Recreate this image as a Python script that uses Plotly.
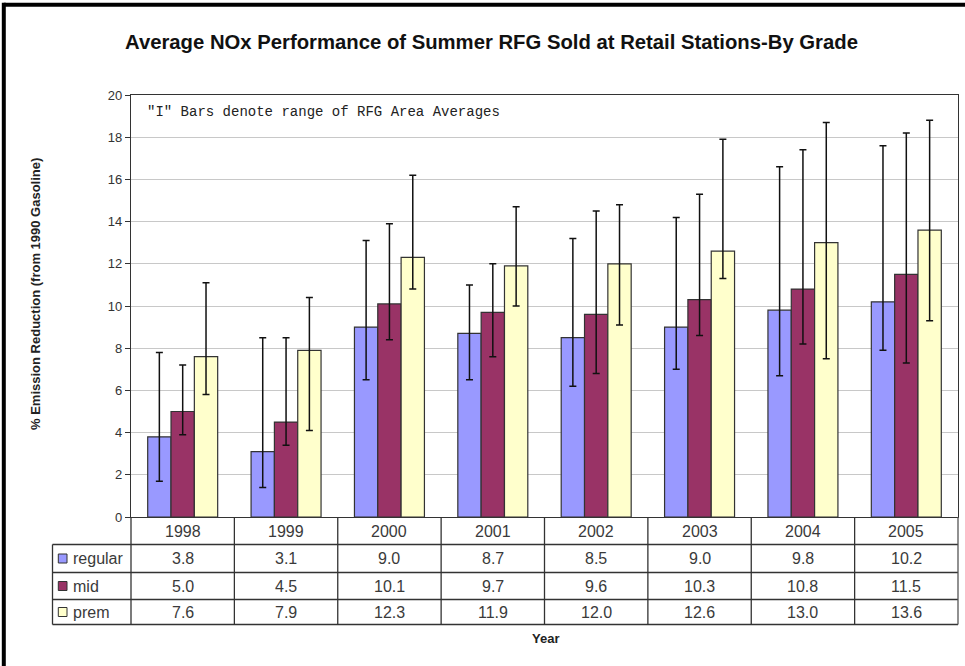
import plotly.graph_objects as go

# ---- data -------------------------------------------------------------
years = ["1998", "1999", "2000", "2001", "2002", "2003", "2004", "2005"]
grades = ["regular", "mid", "prem"]

regular = [3.8, 3.1, 9.0, 8.7, 8.5, 9.0, 9.8, 10.2]
mid = [5.0, 4.5, 10.1, 9.7, 9.6, 10.3, 10.8, 11.5]
prem = [7.6, 7.9, 12.3, 11.9, 12.0, 12.6, 13.0, 13.6]

# range of RFG area averages (high / low) for each grade
regular_hi = [7.8, 8.5, 13.1, 11.0, 13.2, 14.2, 16.6, 17.6]
regular_lo = [1.7, 1.4, 6.5, 6.5, 6.2, 7.0, 6.7, 7.9]
mid_hi = [7.2, 8.5, 13.9, 12.0, 14.5, 15.3, 17.4, 18.2]
mid_lo = [3.9, 3.4, 8.4, 7.6, 6.8, 8.6, 8.2, 7.3]
prem_hi = [11.1, 10.4, 16.2, 14.7, 14.8, 17.9, 18.7, 18.8]
prem_lo = [5.8, 4.1, 10.8, 10.0, 9.1, 11.3, 7.5, 9.3]

y_ticks = [0, 2, 4, 6, 8, 10, 12, 14, 16, 18, 20]

# ---- styling ----------------------------------------------------------
W, H = 965, 666
ML, MR, MT, MB = 131, 7, 95, 149
PW, PH = W - ML - MR, H - MT - MB
colors = {"regular": "#9999FF", "mid": "#993366", "prem": "#FFFFCC"}
FONT = "Liberation Sans, Arial, sans-serif"
LINE = "#333333"


def px_x(px):
    return (px - ML) / PW


def px_y(py):
    return (H - MB - py) / PH


series = {
    "regular": (regular, regular_hi, regular_lo),
    "mid": (mid, mid_hi, mid_lo),
    "prem": (prem, prem_hi, prem_lo),
}

fig = go.Figure()
for name in grades:
    vals, hi, lo = series[name]
    fig.add_trace(go.Bar(
        name=name,
        x=years,
        y=vals,
        marker=dict(color=colors[name], line=dict(color="#333333", width=1.2)),
        error_y=dict(
            type="data",
            symmetric=False,
            array=[h - v for h, v in zip(hi, vals)],
            arrayminus=[v - l for v, l in zip(vals, lo)],
            color="#111111",
            thickness=1.5,
            width=3.5,
        ),
        showlegend=False,
    ))

shapes = []
annotations = []

# data table under the plot
row_lines = [544.5, 572.5, 599.5, 624.5]
row_centers = [531, 558.5, 586, 612]
table_left = 52.5
y_bottom = px_y(row_lines[-1])

for py in row_lines:
    shapes.append(dict(type="line", xref="paper", yref="paper",
                       x0=px_x(table_left), x1=1, y0=px_y(py), y1=px_y(py),
                       line=dict(color=LINE, width=1.3)))
shapes.append(dict(type="line", xref="paper", yref="paper",
                   x0=px_x(table_left), x1=px_x(table_left),
                   y0=px_y(row_lines[0]), y1=y_bottom,
                   line=dict(color=LINE, width=1.3)))
shapes.append(dict(type="line", xref="paper", yref="paper",
                   x0=0, x1=0, y0=0, y1=y_bottom,
                   line=dict(color=LINE, width=1.3)))
shapes.append(dict(type="line", xref="paper", yref="paper",
                   x0=1, x1=1, y0=0, y1=y_bottom,
                   line=dict(color="#555555", width=1.3)))
for i in range(len(years) - 1):
    shapes.append(dict(type="line", xref="x", yref="paper",
                       x0=i + 0.5, x1=i + 0.5, y0=0, y1=y_bottom,
                       line=dict(color=LINE, width=1.3)))

cell_font = dict(family=FONT, size=16, color="#3a3a3a")
for i, yr in enumerate(years):
    annotations.append(dict(x=i, xref="x", y=px_y(row_centers[0]), yref="paper",
                            text=yr, showarrow=False, font=cell_font,
                            xanchor="center", yanchor="middle"))
for r, name in enumerate(grades):
    yc = px_y(row_centers[r + 1])
    vals = series[name][0]
    for i, v in enumerate(vals):
        annotations.append(dict(x=i, xref="x", y=yc, yref="paper",
                                text=f"{v:.1f}", showarrow=False, font=cell_font,
                                xanchor="center", yanchor="middle"))
    # legend key
    cy = row_centers[r + 1]
    shapes.append(dict(type="rect", xref="paper", yref="paper",
                       x0=px_x(58.3), x1=px_x(67), y0=px_y(cy - 4.5), y1=px_y(cy + 4.5),
                       fillcolor=colors[name], line=dict(color="#333333", width=1)))
    annotations.append(dict(x=px_x(71), xref="paper", y=yc, yref="paper",
                            text=name, showarrow=False, font=cell_font,
                            xanchor="left", yanchor="middle"))

# note inside the plot
annotations.append(dict(x=px_x(145), xref="paper", y=px_y(112), yref="paper",
                        text='"I" Bars denote range of RFG Area Averages',
                        showarrow=False, xanchor="left", yanchor="middle",
                        font=dict(family="Liberation Mono, Courier New, monospace",
                                  size=14, color="#222222")))

# title and axis titles
annotations.append(dict(x=px_x(491), xref="paper", y=px_y(42), yref="paper",
                        text="<b>Average NOx Performance of Summer RFG Sold at Retail Stations-By Grade</b>",
                        showarrow=False, xanchor="center", yanchor="middle",
                        font=dict(family=FONT, size=20.3, color="#111111")))
annotations.append(dict(x=px_x(35), xref="paper", y=px_y(294), yref="paper",
                        text="<b>% Emission Reduction (from 1990 Gasoline)</b>",
                        textangle=-90, showarrow=False, xanchor="center", yanchor="middle",
                        font=dict(family=FONT, size=13, color="#222222")))
annotations.append(dict(x=px_x(545), xref="paper", y=px_y(638), yref="paper",
                        text="<b>Year</b>", showarrow=False,
                        xanchor="center", yanchor="middle",
                        font=dict(family=FONT, size=13, color="#222222")))

# dark frame on the top and left edges
shapes.append(dict(type="line", xref="paper", yref="paper",
                   x0=px_x(3.8), x1=px_x(W + 5), y0=px_y(4.7), y1=px_y(4.7),
                   line=dict(color="#000000", width=4)))
shapes.append(dict(type="line", xref="paper", yref="paper",
                   x0=px_x(3.8), x1=px_x(3.8), y0=px_y(2.7), y1=px_y(H + 5),
                   line=dict(color="#000000", width=4)))

fig.update_layout(
    width=W, height=H,
    margin=dict(l=ML, r=MR, t=MT, b=MB, pad=0),
    paper_bgcolor="white",
    plot_bgcolor="white",
    barmode="group",
    bargap=0.323,
    bargroupgap=0,
    showlegend=False,
    shapes=shapes,
    annotations=annotations,
    xaxis=dict(
        type="category",
        range=[-0.5, len(years) - 0.5],
        showticklabels=False,
        ticks="",
        showgrid=False,
        showline=True, linecolor=LINE, linewidth=1.3,
        mirror=True,
        zeroline=False,
    ),
    yaxis=dict(
        range=[0, 20],
        tickvals=y_ticks,
        ticks="outside", ticklen=5, tickcolor=LINE, tickwidth=1,
        tickfont=dict(family=FONT, size=13, color="#333333"),
        showgrid=True, gridcolor="#c8c8c8", gridwidth=1,
        showline=True, linecolor=LINE, linewidth=1.3,
        mirror=True,
        zeroline=False,
    ),
)

fig.write_html("out.html")
